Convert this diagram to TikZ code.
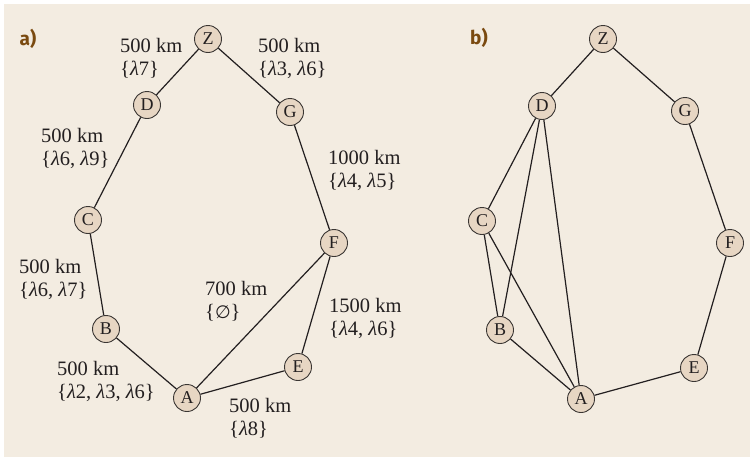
\documentclass[tikz,border=0pt]{standalone}
\usepackage{fontspec}
\setmainfont{Liberation Serif}
\newfontfamily\panelfont{Fira Sans}
\newfontfamily\symfont{DejaVu Sans}
\definecolor{panelbg}{HTML}{F3ECE1}
\definecolor{nodefill}{HTML}{E7D6C3}
\definecolor{nodeline}{HTML}{3A3633}
\definecolor{inktext}{HTML}{231F20}
\definecolor{tagbrown}{HTML}{7A4A10}
\newcommand{\lam}[1]{\textit{λ}#1}
\begin{document}
\begin{tikzpicture}[x=1pt,y=-1pt,
  vertex/.style={circle,draw=nodeline,fill=nodefill,line width=0.9pt,minimum size=27pt,inner sep=0pt,
    text=inktext,font=\fontsize{18}{18}\selectfont},
  link/.style={draw=inktext,line width=1.2pt},
  edgelabel/.style={anchor=north west,inner sep=0pt,align=left,text=inktext,
    font=\fontsize{20.5}{23}\selectfont},
  paneltag/.style={text=tagbrown,font=\panelfont\bfseries\fontsize{19}{19}\selectfont}]
\useasboundingbox (0,0) rectangle (750,461);
\fill[panelbg] (4,4) rectangle (750,457);

% panel a
\node[paneltag] (taga) at (28,39) {a)};
\node[vertex] (aZ) at (208,39) {Z};
\node[vertex] (aD) at (147,105) {D};
\node[vertex] (aG) at (290,112) {G};
\node[vertex] (aC) at (88,220) {C};
\node[vertex] (aF) at (334,243) {F};
\node[vertex] (aB) at (106,329) {B};
\node[vertex] (aE) at (298,367) {E};
\node[vertex] (aA) at (187,398) {A};
\draw[link] (aZ) -- (aD);
\draw[link] (aZ) -- (aG);
\draw[link] (aD) -- (aC);
\draw[link] (aG) -- (aF);
\draw[link] (aC) -- (aB);
\draw[link] (aB) -- (aA);
\draw[link] (aA) -- (aF);
\draw[link] (aA) -- (aE);
\draw[link] (aE) -- (aF);
\node[edgelabel] (lZD) at (120,38) {500 km\\\{\lam{7}\}};
\node[edgelabel] (lZG) at (258,38) {500 km\\\{\lam{3}, \lam{6}\}};
\node[edgelabel] (lDC) at (41,128) {500 km\\\{\lam{6}, \lam{9}\}};
\node[edgelabel] (lGF) at (328,150) {1000 km\\\{\lam{4}, \lam{5}\}};
\node[edgelabel] (lCB) at (19,259) {500 km\\\{\lam{6}, \lam{7}\}};
\node[edgelabel] (lAF) at (205,281) {700 km\\\{{\symfont\fontsize{18}{23}\selectfont ∅}\}};
\node[edgelabel] (lFE) at (329,298) {1500 km\\\{\lam{4}, \lam{6}\}};
\node[edgelabel] (lBA) at (57,361) {500 km\\\{\lam{2}, \lam{3}, \lam{6}\}};
\node[edgelabel] (lAE) at (229,398) {500 km\\\{\lam{8}\}};

% panel b
\node[paneltag] (tagb) at (479,38) {b)};
\node[vertex] (bZ) at (603,39) {Z};
\node[vertex] (bD) at (542,106) {D};
\node[vertex] (bG) at (685,111) {G};
\node[vertex] (bC) at (482,221) {C};
\node[vertex] (bF) at (730,243) {F};
\node[vertex] (bB) at (500,330) {B};
\node[vertex] (bE) at (694,368) {E};
\node[vertex] (bA) at (581,399) {A};
\draw[link] (bZ) -- (bD);
\draw[link] (bZ) -- (bG);
\draw[link] (bG) -- (bF);
\draw[link] (bF) -- (bE);
\draw[link] (bE) -- (bA);
\draw[link] (bD) -- (bC);
\draw[link] (bD) -- (bB);
\draw[link] (bD) -- (bA);
\draw[link] (bC) -- (bB);
\draw[link] (bC) -- (bA);
\draw[link] (bB) -- (bA);
\end{tikzpicture}
\end{document}
